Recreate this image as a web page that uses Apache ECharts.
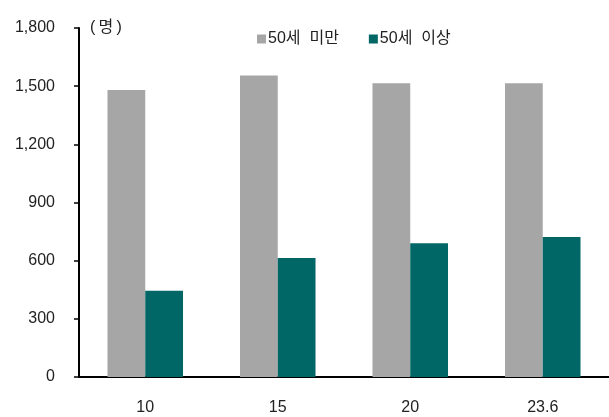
<!DOCTYPE html>
<html>
<head>
<meta charset="utf-8">
<script src="https://cdn.jsdelivr.net/npm/echarts@6/dist/echarts.min.js"></script>
<style>
html,body{margin:0;padding:0;background:#fff;}
#chart{width:609px;height:417px;}
</style>
</head>
<body>
<div id="chart"></div>
<script>
var categories = ['10', '15', '20', '23.6'];
var under50 = [1480, 1555, 1515, 1515];
var over50 = [445, 614, 690, 722];
var yTicks = [0, 300, 600, 900, 1200, 1500, 1800];

var font = 'Liberation Sans, Arial, "Noto Sans CJK KR", sans-serif';
var myChart = echarts.init(document.getElementById('chart'));
var option = {
	animation: false,
	textStyle: { fontFamily: font },
	legend: {
		top: 26,
		left: 252,
		itemWidth: 9,
		itemHeight: 9,
		itemGap: 30,
		icon: 'rect',
		textStyle: { fontSize: 16, color: '#222', fontFamily: font, padding: [0, 0, 0, -3] },
		data: ['50세  미만', '50세  이상']
	},
	grid: { left: 79, right: 0, top: 28, bottom: 40, containLabel: false },
	xAxis: {
		type: 'category',
		data: categories,
		axisLine: { lineStyle: { color: '#000', width: 2 } },
		axisTick: { inside: true, length: 4, lineStyle: { color: '#000', width: 1.5 } },
		axisLabel: { color: '#222', fontSize: 16, margin: 23 }
	},
	yAxis: {
		type: 'value',
		min: yTicks[0],
		max: yTicks[yTicks.length - 1],
		interval: 300,
		name: '(\u2009명\u2009)',
		nameLocation: 'end',
		nameGap: 0,
		nameTextStyle: { fontSize: 16, color: '#222', align: 'left', verticalAlign: 'middle', padding: [0, 0, 0, 11] },
		splitLine: { show: false },
		axisLine: { show: true, lineStyle: { color: '#000', width: 2 } },
		axisTick: { show: true, length: 5, lineStyle: { color: '#000', width: 1.5 } },
		axisLabel: {
			color: '#222', fontSize: 16, margin: 24,
			formatter: function (v) { return v.toLocaleString('en-US'); }
		}
	},
	series: [
		{
			name: '50세  미만',
			type: 'bar',
			data: under50,
			barGap: '0%',
			barCategoryGap: '43%',
			itemStyle: { color: '#a6a6a6' }
		},
		{
			name: '50세  이상',
			type: 'bar',
			data: over50,
			itemStyle: { color: '#006766' }
		}
	]
};
myChart.setOption(option);
</script>
</body>
</html>
